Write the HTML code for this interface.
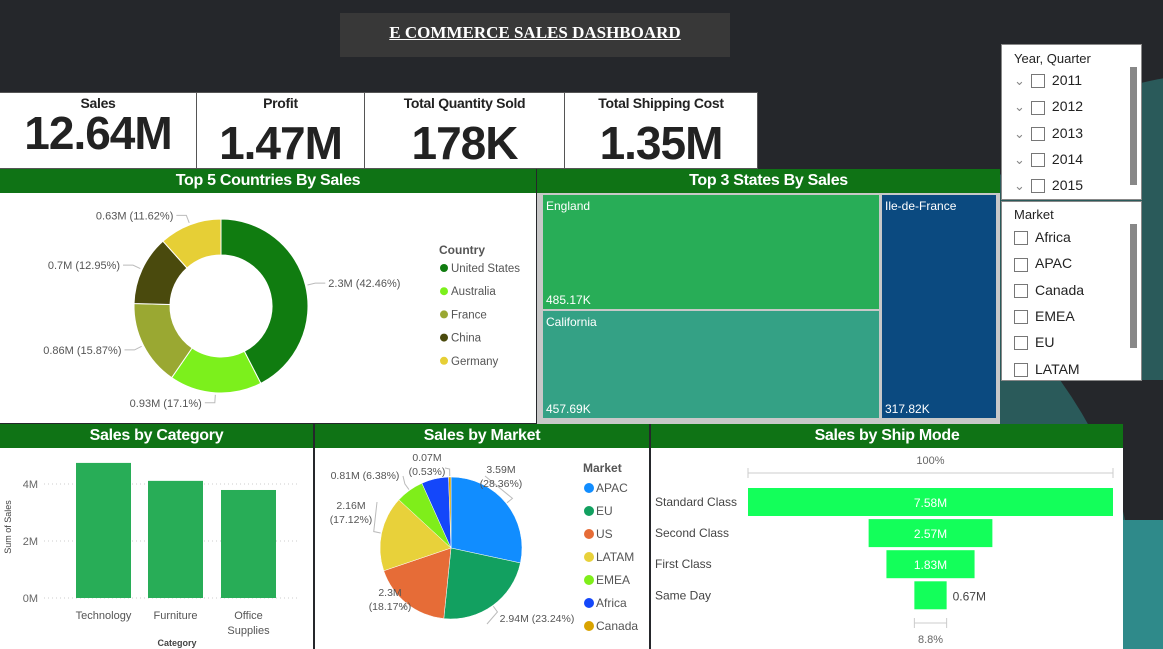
<!DOCTYPE html>
<html><head><meta charset="utf-8">
<style>
*{box-sizing:border-box;margin:0;padding:0}
body{width:1163px;height:649px;overflow:hidden;background:#25272b;font-family:"Liberation Sans",sans-serif;position:relative}
.abs{position:absolute}
.hdr{background:#0f7315;color:#fff;font-weight:bold;font-size:16px;text-align:center;height:24px;line-height:24px;letter-spacing:-0.3px}
.card{background:#fff;top:92px;height:77px;border:1px solid #555;text-align:center;color:#222}
.card .t{font-weight:bold;font-size:14px;margin-top:2px;letter-spacing:-0.3px}
.card .v{font-weight:bold;font-size:46px;letter-spacing:-1px;line-height:48px}
.sl{background:#fff;border:1px solid #888;font-size:14px;color:#222}
.cb{display:inline-block;width:14px;height:14px;border:1px solid #777;vertical-align:middle;margin-right:7px}
svg text{font-family:"Liberation Sans",sans-serif}
</style></head><body>
<svg class="abs" style="left:0;top:0" width="1163" height="649">
<circle cx="1205" cy="335" r="260" fill="#2a5a5a"/>
<path d="M1060 380 Q1110 450 1125 520 L1163 520 L1163 380 Z" fill="#25272b"/>
<rect x="1123" y="520" width="40" height="129" fill="#2f8a8a"/>
</svg>

<div class="abs" style="left:340px;top:13px;width:390px;height:44px;background:#383838;color:#fff;font-family:'Liberation Serif',serif;font-weight:bold;font-size:17px;text-align:center;line-height:40px;text-decoration:underline">E COMMERCE SALES DASHBOARD</div>

<div class="abs card" style="left:-1px;width:198px"><div class="t">Sales</div><div class="v" style="margin-top:-2px">12.64M</div></div>
<div class="abs card" style="left:196px;width:169px"><div class="t">Profit</div><div class="v" style="margin-top:8px">1.47M</div></div>
<div class="abs card" style="left:364px;width:201px"><div class="t">Total Quantity Sold</div><div class="v" style="margin-top:8px">178K</div></div>
<div class="abs card" style="left:564px;width:194px"><div class="t">Total Shipping Cost</div><div class="v" style="margin-top:8px">1.35M</div></div>

<div class="abs" style="left:0;top:169px;width:536px;height:254px;background:#fff">
<div class="hdr">Top 5 Countries By Sales</div>
<svg id="donut" width="536" height="230"></svg>
</div>

<div class="abs" style="left:537px;top:169px;width:463px;height:255px;background:#c8c8c8">
<div class="hdr">Top 3 States By Sales</div>
<div class="abs" style="left:6px;top:26px;width:336px;height:114px;background:#28ad57;color:#fff;font-size:12px"><div style="position:absolute;left:3px;top:4px">England</div><div style="position:absolute;left:3px;bottom:2px">485.17K</div></div>
<div class="abs" style="left:6px;top:142px;width:336px;height:107px;background:#34a185;color:#fff;font-size:12px"><div style="position:absolute;left:3px;top:4px">California</div><div style="position:absolute;left:3px;bottom:2px">457.69K</div></div>
<div class="abs" style="left:345px;top:26px;width:114px;height:223px;background:#0b4a80;color:#fff;font-size:12px"><div style="position:absolute;left:3px;top:4px">Ile-de-France</div><div style="position:absolute;left:3px;bottom:2px">317.82K</div></div>
</div>

<div class="abs sl" style="left:1001px;top:44px;width:141px;height:156px">
<div style="position:absolute;left:12px;top:6px;font-size:13px">Year, Quarter</div>
<div id="years"></div>
<div style="position:absolute;left:128px;top:22px;width:7px;height:118px;background:#888"></div>
</div>
<div class="abs sl" style="left:1001px;top:201px;width:141px;height:180px">
<div style="position:absolute;left:12px;top:5px;font-size:13px">Market</div>
<div id="mkts"></div>
<div style="position:absolute;left:128px;top:22px;width:7px;height:124px;background:#888"></div>
</div>

<div class="abs" style="left:0;top:424px;width:313px;height:225px;background:#fff">
<div class="hdr">Sales by Category</div>
<svg id="bars" class="abs" style="left:0;top:0" width="313" height="225"></svg>
</div>

<div class="abs" style="left:315px;top:424px;width:334px;height:225px;background:#fff">
<div class="hdr">Sales by Market</div>
<svg id="pie" class="abs" style="left:0;top:0" width="334" height="225"></svg>
</div>

<div class="abs" style="left:651px;top:424px;width:472px;height:225px;background:#fff">
<div class="hdr">Sales by Ship Mode</div>
<svg id="funnel" class="abs" style="left:0;top:0" width="472" height="225"></svg>
</div>

<script>
const NS='http://www.w3.org/2000/svg';
function mk(p,tag,a,txt){const e=document.createElementNS(NS,tag);for(const k in a)e.setAttribute(k,a[k]);if(txt!==undefined)e.textContent=txt;p.appendChild(e);return e;}
function arc(cx,cy,r,ri,a0,a1){const p=(a,rr)=>[cx+rr*Math.sin(a),cy-rr*Math.cos(a)];const lg=(a1-a0)>Math.PI?1:0;const [x0,y0]=p(a0,r),[x1,y1]=p(a1,r);
 if(ri<=0)return `M${cx} ${cy}L${x0} ${y0}A${r} ${r} 0 ${lg} 1 ${x1} ${y1}Z`;
 const [x2,y2]=p(a1,ri),[x3,y3]=p(a0,ri);return `M${x0} ${y0}A${r} ${r} 0 ${lg} 1 ${x1} ${y1}L${x2} ${y2}A${ri} ${ri} 0 ${lg} 0 ${x3} ${y3}Z`;}

const years=['2011','2012','2013','2014','2015'];
const markets=['Africa','APAC','Canada','EMEA','EU','LATAM'];
const yd=document.getElementById('years');
years.forEach((y,i)=>{const d=document.createElement('div');d.style.cssText=`position:absolute;left:12px;top:${27+i*26.3}px;font-size:14px`;
d.innerHTML='<span style="color:#888;font-size:13px;margin-right:6px">&#8964;</span><span class="cb"></span>'+y;


yd.appendChild(d);});
const md=document.getElementById('mkts');
markets.forEach((m,i)=>{const d=document.createElement('div');d.style.cssText=`position:absolute;left:12px;top:${27+i*26.3}px;font-size:14px`;
d.innerHTML='<span class="cb"></span>'+m;


md.appendChild(d);});

const countries=['United States','Australia','France','China','Germany'];
const countryVals=[2.3,0.93,0.86,0.7,0.63];
const countryPct=['42.46%','17.1%','15.87%','12.95%','11.62%'];
const countryColors=['#107c10','#7cf01c','#9aa832','#4a4a0d','#e6cf36'];
(function(){const s=document.getElementById('donut');const cx=221,cy=113,R=87,r=51;
const tot=countryVals.reduce((a,b)=>a+b,0);let a=0;
countryVals.forEach((v,i)=>{const a1=a+v/tot*2*Math.PI;const e=mk(s,'path',{d:arc(cx,cy,R,r,a,a1),fill:countryColors[i],stroke:'#fff','stroke-width':1});


const m=(a+a1)/2;const x1=cx+(R+2)*Math.sin(m),y1=cy-(R+2)*Math.cos(m);const x2=cx+(R+10)*Math.sin(m),y2=cy-(R+10)*Math.cos(m);const right=Math.sin(m)>0;
const x3=x2+(right?10:-10);
mk(s,'polyline',{points:`${x1},${y1} ${x2},${y2} ${x3},${y2}`,fill:'none',stroke:'#bbb'});
const t=mk(s,'text',{x:x3+(right?3:-3),y:y2+4,'font-size':11,fill:'#555','text-anchor':right?'start':'end'},v+'M ('+countryPct[i]+')');


a=a1;});
mk(s,'text',{x:439,y:61,'font-size':12,'font-weight':'bold',fill:'#555'},'Country');
countries.forEach((c,i)=>{mk(s,'circle',{cx:444,cy:75+i*23.2,r:4,fill:countryColors[i]});
const t=mk(s,'text',{x:451,y:79+i*23.2,'font-size':11.5,fill:'#555'},c);

});
})();

const cats=['Technology','Furniture','Office Supplies'];
const catVals=[4.74,4.11,3.79];
const yTicks=[0,2,4];
(function(){const s=document.getElementById('bars');const y0=174,k=28.5,xs=[76,148,221],bw=55;const Y=v=>y0-v*k;
yTicks.forEach(t=>{mk(s,'line',{x1:44,x2:300,y1:Y(t),y2:Y(t),stroke:'#ccc','stroke-dasharray':'1 3'});
mk(s,'text',{x:38,y:Y(t)+4,'font-size':11,fill:'#666','text-anchor':'end'},t+'M');});
catVals.forEach((v,i)=>{const r=mk(s,'rect',{x:xs[i],y:Y(v),width:bw,height:v*k,fill:'#28ad57'});


const words=cats[i].split(' ');words.forEach((w,j)=>mk(s,'text',{x:xs[i]+bw/2,y:195+j*15,'font-size':11,fill:'#555','text-anchor':'middle'},w));});
mk(s,'text',{x:177,y:222,'font-size':9,'font-weight':'bold',fill:'#444','text-anchor':'middle'},'Category');
mk(s,'text',{x:11,y:103,'font-size':9,fill:'#444','text-anchor':'middle',transform:'rotate(-90 11 103)'},'Sum of Sales');
})();

const mNames=['APAC','EU','US','LATAM','EMEA','Africa','Canada'];
const mVals=[3.59,2.94,2.3,2.16,0.81,0.78,0.07];
const mLabels=['3.59M|(28.36%)','2.94M (23.24%)','2.3M|(18.17%)','2.16M|(17.12%)','0.81M (6.38%)','','0.07M|(0.53%)'];
const mColors=['#118dff','#12a060','#e66c37','#e8d13a','#7fee1a','#1447fa','#d9a300'];
(function(){const s=document.getElementById('pie');const cx=136,cy=124,R=71;
const tot=mVals.reduce((a,b)=>a+b,0);let a=0;
// label anchor: [centerX, firstBaselineY, leaderEndX, leaderEndY]
const lp=[[186,49,170,52],[222,198,172,200],[75,172,92,178],[36,85,62,78],[50,55,88,52],null,[112,37,130,44]];
mVals.forEach((v,i)=>{const a1=a+v/tot*2*Math.PI;const e=mk(s,'path',{d:arc(cx,cy,R,0,a,a1),fill:mColors[i],stroke:'#fff','stroke-width':0.5});


const m=(a+a1)/2;
if(lp[i]){const [lx,ly,ex,ey]=lp[i];const px=cx+(R+1)*Math.sin(m),py=cy-(R+1)*Math.cos(m);
const qx=cx+(R+8)*Math.sin(m),qy=cy-(R+8)*Math.cos(m);
mk(s,'polyline',{points:`${px},${py} ${qx},${qy} ${ex},${ey}`,fill:'none',stroke:'#bbb'});
const parts=mLabels[i].split('|');
parts.forEach((p,j)=>mk(s,'text',{x:lx,y:ly+j*14,'font-size':10.5,fill:'#555','text-anchor':'middle'},p));}
a=a1;});
mk(s,'text',{x:268,y:48,'font-size':12,'font-weight':'bold',fill:'#555'},'Market');
mNames.forEach((n,i)=>{mk(s,'circle',{cx:274,cy:64+i*23,r:5,fill:mColors[i]});
const t=mk(s,'text',{x:281,y:68+i*23,'font-size':12,fill:'#555'},n);

});
})();

const modes=['Standard Class','Second Class','First Class','Same Day'];
const modeVals=[7.58,2.57,1.83,0.67];
const modeLabels=['7.58M','2.57M','1.83M','0.67M'];
(function(){const s=document.getElementById('funnel');const cx=279.5,W=365,top=64,h=28,gap=3.1;const w=v=>v/modeVals[0]*W;
mk(s,'text',{x:cx,y:40,'font-size':11,fill:'#666','text-anchor':'middle'},'100%');
mk(s,'path',{d:`M${cx-W/2} 44V54M${cx-W/2} 49H${cx+W/2}M${cx+W/2} 44V54`,stroke:'#ccc',fill:'none'});
modeVals.forEach((v,i)=>{const y=top+i*(h+gap);const bw=w(v);
const r=mk(s,'rect',{x:cx-bw/2,y:y,width:bw,height:h,fill:'#13ff5a'});


mk(s,'text',{x:4,y:y+18,'font-size':12,fill:'#444'},modes[i]);
if(bw>50)mk(s,'text',{x:cx,y:y+19,'font-size':12,fill:'#fff','text-anchor':'middle'},modeLabels[i]);
else mk(s,'text',{x:cx+bw/2+6,y:y+19,'font-size':12,fill:'#444'},modeLabels[i]);});
const lw=w(modeVals[3]);
mk(s,'path',{d:`M${cx-lw/2} 194V204M${cx-lw/2} 199H${cx+lw/2}M${cx+lw/2} 194V204`,stroke:'#ccc',fill:'none'});
mk(s,'text',{x:cx,y:219,'font-size':11,fill:'#666','text-anchor':'middle'},(modeVals[3]/modeVals[0]*100).toFixed(1)+'%');
})();
</script>
</body></html>
